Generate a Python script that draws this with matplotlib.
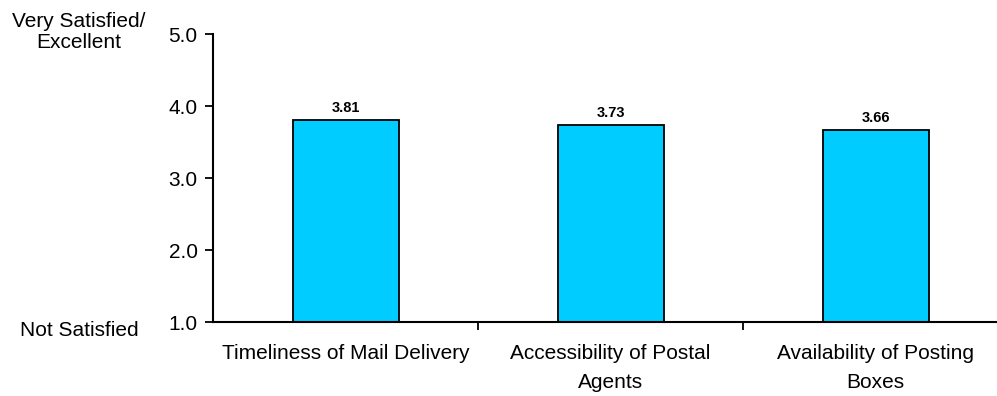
import matplotlib
matplotlib.use("Agg")
import matplotlib.pyplot as plt
import numpy as np

plt.rcParams['font.family'] = ['Liberation Sans', 'DejaVu Sans']

categories = ["Timeliness of Mail Delivery",
              "Accessibility of Postal\nAgents",
              "Availability of Posting\nBoxes"]
scores = [3.81, 3.73, 3.66]
yticks = [1.0, 2.0, 3.0, 4.0, 5.0]
top_label = "Very Satisfied/\nExcellent"
bottom_label = "Not Satisfied"

W, H = 997, 396
fig = plt.figure(figsize=(W / 100, H / 100), dpi=100)
left, right = 213, 1008
top, bottom = 34, 322
ax = fig.add_axes([left / W, 1 - bottom / H, (right - left) / W, (bottom - top) / H])

x = np.arange(len(categories))
ax.bar(x, [s - 1.0 for s in scores], bottom=1.0, width=0.4,
       color="#00CCFF", edgecolor="black", linewidth=1.3, zorder=2)

for xi, s in zip(x, scores):
    ax.text(xi, s + 0.07, f"{s:.2f}", ha="center", va="bottom",
            fontsize=10.5, fontweight="bold")

ax.set_xlim(-0.5, len(categories) - 0.5)
ax.set_ylim(1.0, 5.0)
ax.set_yticks(yticks)
ax.set_yticklabels([f"{v:.1f}" for v in yticks], fontsize=15)

ax.set_xticks(x)
ax.set_xticklabels(categories, fontsize=15, va="top", linespacing=1.62)
ax.tick_params(axis="x", length=0, pad=16)
ax.set_xticks(np.arange(len(categories)) + 0.5, minor=True)
ax.tick_params(axis="x", which="minor", length=6, width=1.3, direction="out")
ax.tick_params(axis="y", length=6, width=1.3, direction="out", pad=5)

for side in ("top", "right"):
    ax.spines[side].set_visible(False)
for side in ("left", "bottom"):
    ax.spines[side].set_linewidth(1.5)

fig.text(79 / W, 1 - 32 / H, top_label, ha="center", va="center",
         fontsize=15, linespacing=1.12)
fig.text(79 / W, 1 - 331 / H, bottom_label, ha="center", va="center",
         fontsize=15)

fig.savefig("out.png", dpi=100)
